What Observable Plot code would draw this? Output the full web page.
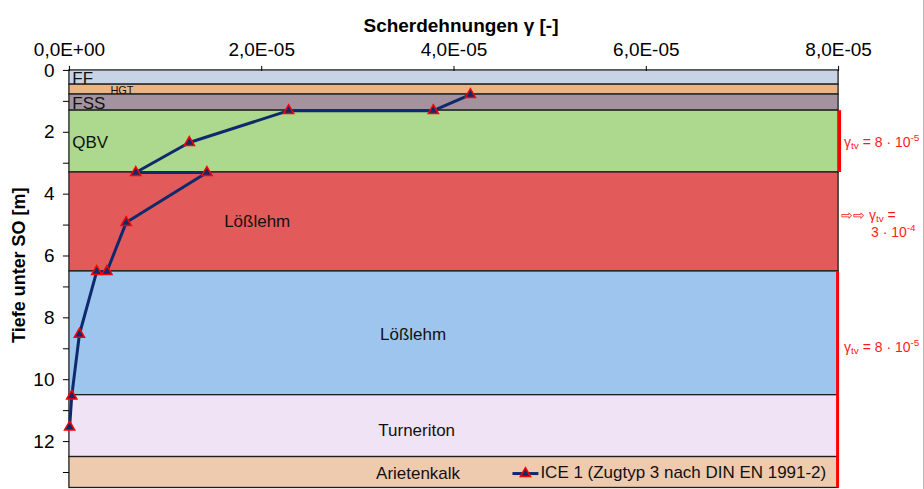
<!DOCTYPE html>
<html>
<head>
<meta charset="utf-8">
<script src="https://cdn.jsdelivr.net/npm/d3@7"></script>
<script src="https://cdn.jsdelivr.net/npm/@observablehq/plot@0.6"></script>
<style>
  html, body { margin: 0; padding: 0; background: #fff; }
  #chart { width: 924px; height: 489px; position: relative; overflow: hidden; box-sizing: border-box; border-right: 1px solid #b8b8b8; }
  #chart svg { overflow: visible; }
</style>
</head>
<body>
<div id="chart"></div>
<script>
// ---- Soil layers (depth in m) ----
const layerNames  = ["FF", "HGT", "FSS", "QBV", "Lößlehm", "Lößlehm", "Turneriton", "Arietenkalk"];
const layerTop    = [0, 0.46, 0.78, 1.3, 3.3, 6.5, 10.5, 12.5];
const layerBottom = [0.46, 0.78, 1.3, 3.3, 6.5, 10.5, 12.5, 13.5];
const layerColors = ["#c8d4e6", "#e9b585", "#a5929f", "#acd98d", "#e35a5a", "#9dc5ee", "#efe3f5", "#eecaaf"];

// ---- Series: ICE 1 (Zugtyp 3 nach DIN EN 1991-2) ----
const seriesName = "ICE 1 (Zugtyp 3 nach DIN EN 1991-2)";
const shear = [4.17e-5, 3.785e-5, 2.28e-5, 1.247e-5, 0.69e-5, 1.43e-5, 0.59e-5, 0.39e-5, 0.284e-5, 0.104e-5, 0.024e-5, 0.002e-5];
const depth = [0.78, 1.3, 1.3, 2.33, 3.3, 3.3, 4.92, 6.5, 6.5, 8.53, 10.53, 11.53];

// ---- Axes ----
const xTicks = [0, 2e-5, 4e-5, 6e-5, 8e-5];
const xTickLabels = ["0,0E+00", "2,0E-05", "4,0E-05", "6,0E-05", "8,0E-05"];
const yTicks = [0, 1, 2, 3, 4, 5, 6, 7, 8, 9, 10, 11, 12, 13];
const yTickLabels = ["0", "", "2", "", "4", "", "6", "", "8", "", "10", "", "12", ""];
const xTitle = "Scherdehnungen γ [-]";
const yTitle = "Tiefe unter SO [m]";

// ---- Limit annotations (γ_tv) ----
const limitMantissa = ["8 · 10", "3 · 10", "8 · 10"];
const limitExponent = ["-5", "-4", "-5"];

// ---- Label placement (layout, data units) ----
const labelX = [0.03e-5, 0.426e-5, 0.03e-5, 0.03e-5, 1.953e-5, 3.574e-5, 3.612e-5, 3.626e-5];
const labelY = [0.26, 0.65, 1.06, 2.34, 4.9, 8.54, 11.63, 13.05];

const layers = layerNames.map((name, i) => ({
  name, top: layerTop[i], bottom: layerBottom[i], color: layerColors[i],
  lx: labelX[i], ly: labelY[i]
}));
const points = shear.map((s, i) => ({shear: s, depth: depth[i]}));

const FONT = "'Liberation Sans', Arial, Helvetica, sans-serif";
const NAVY = "#0e2a6c";
const xMax = xTicks[xTicks.length - 1];
const leftLabels = ["FF", "FSS", "QBV"];
const TRI_R = 3.8;

const plot = Plot.plot({
  width: 924,
  height: 489,
  marginTop: 70,
  marginLeft: 69,
  marginRight: 85,
  marginBottom: 1,
  style: {fontFamily: FONT, background: "transparent", color: "#000"},
  x: {domain: [0, xMax], axis: null},
  y: {domain: [0, 13.5], reverse: true, axis: null},
  color: {type: "identity"},
  marks: [
    Plot.rect(layers, {x1: 0, x2: xMax, y1: "top", y2: "bottom", fill: d => d.color, stroke: "#1e1e1e", strokeWidth: 1.3}),
    Plot.text(layers.filter(d => leftLabels.includes(d.name)), {x: "lx", y: "ly", text: "name", textAnchor: "start", fontSize: 17, fill: "#111"}),
    Plot.text(layers.filter((d, i) => i >= 4), {x: "lx", y: "ly", text: "name", textAnchor: "middle", fontSize: 17, fill: "#111"}),
    Plot.text(layers.filter(d => d.name === "HGT"), {x: "lx", y: "ly", text: "name", textAnchor: "start", fontSize: 11, fill: "#111"}),
    Plot.ruleX([xMax], {y1: layerTop[3], y2: layerBottom[3], stroke: "#ff0000", strokeWidth: 3, dx: 1}),
    Plot.ruleX([xMax], {y1: layerTop[5], y2: layerBottom[7], stroke: "#ff0000", strokeWidth: 3, dx: -1}),
    Plot.axisX(xTicks, {anchor: "top", tickSize: 5, tickPadding: 9, tickFormat: d => xTickLabels[xTicks.indexOf(d)], fontSize: 19, stroke: "#000", fill: "#000"}),
    Plot.axisY(yTicks, {anchor: "left", tickSize: 6, tickPadding: 9, tickFormat: d => yTickLabels[yTicks.indexOf(d)], fontSize: 19, stroke: "#000", fill: "#000"}),
    Plot.line(points, {x: "shear", y: "depth", stroke: NAVY, strokeWidth: 3}),
    Plot.dot(points, {x: "shear", y: "depth", symbol: "triangle", r: TRI_R, fill: NAVY, stroke: "#ff0000", strokeWidth: 1.5}),
    Plot.text([xTitle], {frameAnchor: "top", dx: 7, dy: -52, textAnchor: "middle", fontSize: 19, fontWeight: "bold", fill: "#000"}),
    Plot.text([yTitle], {frameAnchor: "left", dx: -50, dy: -14, textAnchor: "middle", rotate: -90, fontSize: 18, fontWeight: "bold", fill: "#000"})
  ]
});

document.getElementById("chart").appendChild(plot);

// ---- Annotations and legend, positioned through the plot's scales ----
const sx = plot.scale("x"), sy = plot.scale("y");
const svg = d3.select(plot);
const xr = sx.apply(xMax);
const RED = "#ff1a1a";

function baseText(g, x, y, size) {
  return g.append("text")
    .attr("x", x).attr("y", y)
    .attr("font-family", FONT).attr("font-size", size).attr("fill", RED)
    .attr("text-anchor", "start")
    .attr("dominant-baseline", "middle");
}

function gammaText(g, x, y, prefix, mant, exp, eqOnly) {
  const t = baseText(g, x, y, 14);
  if (prefix) t.append("tspan").text(prefix);
  t.append("tspan").text("γ");
  t.append("tspan").attr("font-size", 10).attr("dy", 3).text("tv");
  t.append("tspan").attr("dy", -3).text(" =" + (eqOnly ? "" : " " + mant));
  if (!eqOnly) t.append("tspan").attr("font-size", 10).attr("dy", -5).text(exp);
  return t;
}

const ann = svg.append("g");
// QBV
gammaText(ann, xr + 6, sy.apply((layerTop[3] + layerBottom[3]) / 2) + 2, "", limitMantissa[0], limitExponent[0], false);
// Lößlehm (red) – two lines
const midRed = sy.apply((layerTop[4] + layerBottom[4]) / 2);
gammaText(ann, xr + 3, midRed - 5, "⇨⇨ ", limitMantissa[1], limitExponent[1], true);
const t2 = baseText(ann, xr + 33, midRed + 12, 14);
t2.append("tspan").text(limitMantissa[1]);
t2.append("tspan").attr("font-size", 10).attr("dy", -5).text(limitExponent[1]);
// Lößlehm (blue) and below
gammaText(ann, xr + 6, sy.apply(9.0), "", limitMantissa[2], limitExponent[2], false);

// Legend
const ly = sy.apply(13.05);
const lg = svg.append("g");
const lx0 = xr - 326;
lg.append("line").attr("x1", lx0).attr("x2", lx0 + 26).attr("y1", ly).attr("y2", ly)
  .attr("stroke", NAVY).attr("stroke-width", 3);
lg.append("path").attr("d", d3.symbol(d3.symbolTriangle, Math.PI * TRI_R * TRI_R)())
  .attr("transform", `translate(${lx0 + 13},${ly})`)
  .attr("fill", NAVY).attr("stroke", "#ff0000").attr("stroke-width", 1.5);
lg.append("text").attr("x", lx0 + 28).attr("y", ly)
  .attr("font-family", FONT).attr("font-size", 17).attr("fill", "#111")
  .attr("text-anchor", "start")
  .attr("dominant-baseline", "middle").text(seriesName);
</script>
</body>
</html>
